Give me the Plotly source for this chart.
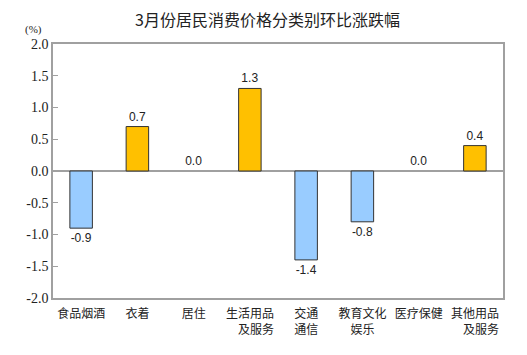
import plotly.graph_objects as go

categories = ["食品烟酒", "衣着", "居住", "生活用品<br>\u3000及服务", "交通<br>通信",
              "教育文化<br>娱乐", "医疗保健", "其他用品<br>\u3000及服务"]
values = [-0.9, 0.7, 0.0, 1.3, -1.4, -0.8, 0.0, 0.4]
tick_vals = [-2.0, -1.5, -1.0, -0.5, 0.0, 0.5, 1.0, 1.5, 2.0]
tick_text = ["-2.0", "-1.5", "-1.0", "-0.5", "0.0", "0.5", "1.0", "1.5", "2.0"]

colors = ["#99CCFF" if v < 0 else "#FFC000" for v in values]
line_widths = [0 if v == 0 else 1 for v in values]
labels = [f"{v:.1f}" for v in values]

fig = go.Figure()
fig.add_trace(go.Bar(
    x=categories, y=values,
    marker=dict(color=colors, line=dict(color="#333333", width=line_widths)),
    width=0.4, text=labels, textposition="outside", cliponaxis=False,
    textfont=dict(family="Liberation Sans, Arial", size=12, color="#222222"),
))

fig.update_layout(
    width=519, height=347,
    margin=dict(l=45, r=24, t=36, b=57),
    paper_bgcolor="white", plot_bgcolor="white",
    showlegend=False,
    title=dict(text="3月份居民消费价格分类别环比涨跌幅", x=0.5, xanchor="center", y=0.965, yanchor="middle",
               font=dict(family="Noto Sans CJK SC", size=16, color="#222222")),
    font=dict(family="Noto Sans CJK SC", size=12, color="#222222"),
)
fig.update_xaxes(showline=True, mirror=True, linecolor="#A0A0A0", linewidth=1.5,
                 ticks="", ticklabelstandoff=4,
                 tickfont=dict(family="Noto Sans CJK SC", size=12, color="#222222"),
                 showgrid=False)
fig.update_yaxes(range=[-2.0, 2.0], tickvals=tick_vals, ticktext=tick_text,
                 showline=True, mirror=True, linecolor="#A0A0A0", linewidth=1.5,
                 ticks="inside", ticklen=5, tickcolor="#A0A0A0", tickwidth=1,
                 showgrid=False, zeroline=True, zerolinecolor="#A0A0A0", zerolinewidth=1.5,
                 tickfont=dict(family="Times New Roman, Liberation Serif, DejaVu Serif, serif", size=14, color="#222222"))
fig.add_annotation(text="(%)", xref="paper", yref="paper", x=-0.044, y=1.059, xanchor="center", yanchor="middle",
                   showarrow=False, font=dict(family="Times New Roman, Liberation Serif, serif", size=11, color="#222222"))

fig.write_html("out.html")
